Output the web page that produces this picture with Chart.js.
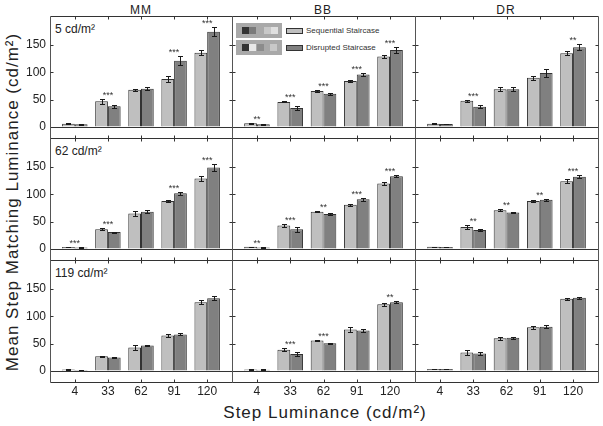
<!DOCTYPE html>
<html>
<head>
<meta charset="utf-8">
<script src="https://cdn.jsdelivr.net/npm/chart.js@4/dist/chart.umd.min.js"></script>
<style>
  body { margin: 0; background: #fff; }
  #wrap { position: relative; width: 603px; height: 426px; overflow: hidden; font-family: "Liberation Sans", Arial, sans-serif; color: #222; }
  canvas { position: absolute; }
  .txt { position: absolute; white-space: nowrap; }
  .obs { top: 2px; width: 182px; text-align: center; font-size: 12px; letter-spacing: 1px; line-height: 16px; }
  .lvl { font-size: 12px; line-height: 14px; }
  .img { position: absolute; background: #a9a9a9; width: 46px; height: 15px; }
  .sq { position: absolute; top: 4px; width: 7px; height: 7px; }
  .sw { position: absolute; width: 15px; height: 4px; border: 1px solid #333; }
  .leg { position: absolute; font-size: 8px; line-height: 10px; color: #333; }
</style>
</head>
<body>
<div id="wrap">
  <div class="txt obs" style="left:50px">MM</div>
  <div class="txt obs" style="left:232px">BB</div>
  <div class="txt obs" style="left:415px">DR</div>
  <div class="txt lvl" style="left:55px;top:22px">5 cd/m²</div>
  <div class="txt lvl" style="left:55px;top:144px">62 cd/m²</div>
  <div class="txt lvl" style="left:55px;top:266px">119 cd/m²</div>

  <div class="img" style="left:236px;top:23px">
    <div class="sq" style="left:6px;background:#333"></div>
    <div class="sq" style="left:13px;background:#7a7a7a"></div>
    <div class="sq" style="left:28px;background:#c8c8c8"></div>
    <div class="sq" style="left:35px;background:#e0e0e0"></div>
  </div>
  <div class="img" style="left:236px;top:40px">
    <div class="sq" style="left:6px;background:#333"></div>
    <div class="sq" style="left:13px;background:#e8e8e8"></div>
    <div class="sq" style="left:21px;background:#8c8c8c"></div>
    <div class="sq" style="left:34px;background:#c8c8c8"></div>
  </div>
  <div class="sw" style="left:286px;top:28px;background:#bfbfbf"></div>
  <div class="sw" style="left:286px;top:45px;background:#808080"></div>
  <div class="leg" style="left:306px;top:26px">Sequential Staircase</div>
  <div class="leg" style="left:306px;top:43px">Disrupted Staircase</div>

  <div class="txt" style="left:325px;top:403px;transform:translateX(-50%);font-size:17px;letter-spacing:1px;line-height:20px">Step Luminance (cd/m²)</div>
  <div class="txt" style="left:13px;top:202px;transform:translate(-50%,-50%) rotate(-90deg);font-size:17px;letter-spacing:1px;line-height:20px">Mean Step Matching Luminance (cd/m²)</div>
</div>
<script>
const steps = ['4', '33', '62', '91', '120'];
const observers = ['MM', 'BB', 'DR'];
const yTicks = [0, 50, 100, 150];

// background 5 cd/m2
const mm5Seq = [6, 47, 68, 88, 136];
const mm5SeqErr = [1, 4, 2, 6, 5];
const mm5Dis = [5, 38, 70, 121, 174];
const mm5DisErr = [1, 3, 3, 8, 8];
const mm5Sig = ['', '***', '', '***', '***'];

const bb5Seq = [7, 46, 66, 84, 129];
const bb5SeqErr = [0.5, 1, 1.5, 2.5, 2];
const bb5Dis = [5, 35, 61, 96, 141];
const bb5DisErr = [0.5, 3, 2, 2, 5];
const bb5Sig = ['**', '***', '***', '***', '***'];

const dr5Seq = [6, 48, 69, 90, 135];
const dr5SeqErr = [1, 1.5, 4, 4, 4];
const dr5Dis = [5.5, 37, 69, 99, 146];
const dr5DisErr = [0.5, 3, 3.5, 7, 5];
const dr5Sig = ['', '***', '', '', '**'];

// background 62 cd/m2
const mm62Seq = [3.6, 36, 65, 88, 129];
const mm62SeqErr = [0.5, 2, 4, 2.5, 5];
const mm62Dis = [3, 31, 68, 102, 149];
const mm62DisErr = [0.5, 1, 3, 2.5, 7];
const mm62Sig = ['***', '***', '', '***', '***'];

const bb62Seq = [4, 43, 68, 81, 120];
const bb62SeqErr = [0.5, 2, 1, 2, 3];
const bb62Dis = [3, 36, 64, 91, 133];
const bb62DisErr = [0.5, 4, 1, 3, 2];
const bb62Sig = ['**', '***', '**', '***', '***'];

const dr62Seq = [4, 40.5, 71, 88, 124];
const dr62SeqErr = [0.5, 3, 2, 1.5, 3.5];
const dr62Dis = [3.6, 35, 67, 90, 132];
const dr62DisErr = [0.5, 2, 1, 2, 3];
const dr62Sig = ['', '**', '**', '**', '***'];

// background 119 cd/m2
const mm119Seq = [3, 27, 43, 65, 126];
const mm119SeqErr = [0.5, 1, 4, 3.5, 3];
const mm119Dis = [2, 25, 46.5, 67, 133];
const mm119DisErr = [0.5, 1, 1, 2, 4];
const mm119Sig = ['', '', '', '', ''];

const bb119Seq = [3, 39, 56, 76, 122];
const bb119SeqErr = [0.5, 3, 1, 4, 3];
const bb119Dis = [2.5, 31, 51, 74, 126];
const bb119DisErr = [0.5, 4, 1, 2, 1.5];
const bb119Sig = ['', '***', '***', '', '**'];

const dr119Seq = [3.6, 34, 60, 80, 132];
const dr119SeqErr = [0.5, 4, 3, 3, 2];
const dr119Dis = [3.6, 32, 61, 81, 134];
const dr119DisErr = [0.5, 2, 2, 3, 2];
const dr119Sig = ['', '', '', '', ''];

const panels = [
  [[mm5Seq, mm5SeqErr, mm5Dis, mm5DisErr, mm5Sig], [bb5Seq, bb5SeqErr, bb5Dis, bb5DisErr, bb5Sig], [dr5Seq, dr5SeqErr, dr5Dis, dr5DisErr, dr5Sig]],
  [[mm62Seq, mm62SeqErr, mm62Dis, mm62DisErr, mm62Sig], [bb62Seq, bb62SeqErr, bb62Dis, bb62DisErr, bb62Sig], [dr62Seq, dr62SeqErr, dr62Dis, dr62DisErr, dr62Sig]],
  [[mm119Seq, mm119SeqErr, mm119Dis, mm119DisErr, mm119Sig], [bb119Seq, bb119SeqErr, bb119Dis, bb119DisErr, bb119Sig], [dr119Seq, dr119SeqErr, dr119Dis, dr119DisErr, dr119Sig]]
];

// panel edges on the page
const colX = [50, 232, 415, 598];
const rowY = [16, 138, 260, 382];

const FONT = '"Liberation Sans", Arial, sans-serif';
Chart.defaults.font.family = FONT;

const errorBars = {
  id: 'errorBars',
  afterDatasetsDraw(chart) {
    const ctx = chart.ctx;
    const y = chart.scales.y;
    ctx.save();
    ctx.strokeStyle = '#1a1a1a';
    ctx.lineWidth = 1;
    chart.data.datasets.forEach((ds, i) => {
      chart.getDatasetMeta(i).data.forEach((bar, j) => {
        const v = ds.data[j].y;
        const e = ds.errors[j];
        const x = Math.round(bar.x) + 0.5;
        const y1 = Math.round(y.getPixelForValue(v + e)) + 0.5;
        const y2 = Math.round(y.getPixelForValue(v - e)) + 0.5;
        ctx.beginPath();
        ctx.moveTo(x, y1); ctx.lineTo(x, y2);
        ctx.moveTo(x - 2.5, y1); ctx.lineTo(x + 2.5, y1);
        ctx.moveTo(x - 2.5, y2); ctx.lineTo(x + 2.5, y2);
        ctx.stroke();
      });
    });
    ctx.restore();
  }
};

const sigStars = {
  id: 'sigStars',
  afterDatasetsDraw(chart, args, opts) {
    const ctx = chart.ctx;
    const { x, y } = chart.scales;
    ctx.save();
    ctx.fillStyle = '#333';
    ctx.font = '9px ' + FONT;
    ctx.textAlign = 'center';
    ctx.textBaseline = 'alphabetic';
    opts.marks.forEach((m, j) => {
      if (!m) return;
      let top = Infinity;
      chart.data.datasets.forEach(ds => {
        top = Math.min(top, y.getPixelForValue(ds.data[j].y + ds.errors[j]));
      });
      ctx.fillText(m, x.getPixelForValue(j), top - 1);
    });
    ctx.restore();
  }
};

// frame, inward tick marks and tick labels (placed with the chart's own scales)
const frame = {
  id: 'frame',
  afterDraw(chart, args, opts) {
    const { ctx, chartArea: a } = chart;
    const { x, y } = chart.scales;
    const l = a.left + 0.5, r = a.right + 0.5, t = a.top + 0.5, b = a.bottom + 0.5;
    ctx.save();
    ctx.lineWidth = 1;
    ctx.strokeStyle = '#333';
    ctx.beginPath();
    ctx.moveTo(l, t); ctx.lineTo(r, t);
    ctx.moveTo(l, b); ctx.lineTo(r, b);
    ctx.stroke();
    ctx.strokeStyle = '#555';
    ctx.beginPath();
    ctx.moveTo(l, t); ctx.lineTo(l, b);
    ctx.moveTo(r, t); ctx.lineTo(r, b);
    ctx.stroke();
    ctx.strokeStyle = '#333';
    ctx.beginPath();
    steps.forEach((s, i) => {
      const px = Math.round(x.getPixelForValue(i)) + 0.5;
      ctx.moveTo(px, t); ctx.lineTo(px, t + 3);
      ctx.moveTo(px, b); ctx.lineTo(px, b - 3);
    });
    yTicks.slice(1).forEach(v => {
      const py = Math.round(y.getPixelForValue(v)) + 0.5;
      ctx.moveTo(l, py); ctx.lineTo(l + 3, py);
      ctx.moveTo(r, py); ctx.lineTo(r - 3, py);
    });
    ctx.stroke();

    ctx.fillStyle = '#222';
    ctx.font = '12px ' + FONT;
    ctx.textBaseline = 'middle';
    if (opts.yLabels) {
      ctx.textAlign = 'right';
      yTicks.forEach(v => ctx.fillText(String(v), a.left - 4, y.getPixelForValue(v)));
    }
    if (opts.xLabels) {
      ctx.textAlign = 'center';
      steps.forEach((s, i) => ctx.fillText(s, x.getPixelForValue(i), a.bottom + 10));
    }
    ctx.restore();
  }
};

function makePanel(r, c) {
  const [seq, seqErr, dis, disErr, sig] = panels[r][c];
  const left = c === 0 ? 0 : colX[c] - 4;
  const top = rowY[r] - 4;
  const yw = colX[c] - left;
  const xh = r === 2 ? 24 : 4;
  const w = colX[c + 1] + 4 - left;
  const h = rowY[r + 1] + xh - top;

  const canvas = document.createElement('canvas');
  canvas.width = w;
  canvas.height = h;
  canvas.style.left = left + 'px';
  canvas.style.top = top + 'px';
  canvas.style.width = w + 'px';
  canvas.style.height = h + 'px';
  document.getElementById('wrap').appendChild(canvas);

  new Chart(canvas, {
    type: 'bar',
    data: {
      datasets: [{
        label: 'Sequential Staircase',
        data: seq.map((v, i) => ({ x: i, y: v })),
        errors: seqErr,
        backgroundColor: '#bfbfbf',
        borderColor: '#333',
        borderWidth: 1
      }, {
        label: 'Disrupted Staircase',
        data: dis.map((v, i) => ({ x: i, y: v })),
        errors: disErr,
        backgroundColor: '#808080',
        borderColor: '#333',
        borderWidth: 1
      }]
    },
    options: {
      responsive: false,
      animation: false,
      devicePixelRatio: 1,
      categoryPercentage: 0.77,
      barPercentage: 1,
      layout: { autoPadding: false, padding: { left: 0, top: 4, right: 4, bottom: 0 } },
      plugins: {
        legend: { display: false },
        tooltip: { enabled: false },
        sigStars: { marks: sig },
        frame: { yLabels: c === 0, xLabels: r === 2 }
      },
      scales: {
        x: {
          type: 'linear',
          offset: false,
          min: -0.75,
          max: 4.75,
          afterBuildTicks: s => { s.ticks = steps.map((_, i) => ({ value: i })); },
          afterFit: s => { s.height = xh; },
          grid: { display: false, drawTicks: false },
          border: { display: false },
          ticks: { display: false }
        },
        y: {
          min: -20,
          max: 203,
          afterBuildTicks: s => { s.ticks = yTicks.map(v => ({ value: v })); },
          afterFit: s => { s.width = yw; },
          grid: {
            drawTicks: false,
            color: ctx => (ctx.tick && ctx.tick.value === 0 ? '#333' : 'rgba(0,0,0,0)')
          },
          border: { display: false },
          ticks: { display: false }
        }
      }
    },
    plugins: [errorBars, sigStars, frame]
  });
}

for (let r = 0; r < 3; r++) {
  for (let c = 0; c < 3; c++) makePanel(r, c);
}
</script>
</body>
</html>
